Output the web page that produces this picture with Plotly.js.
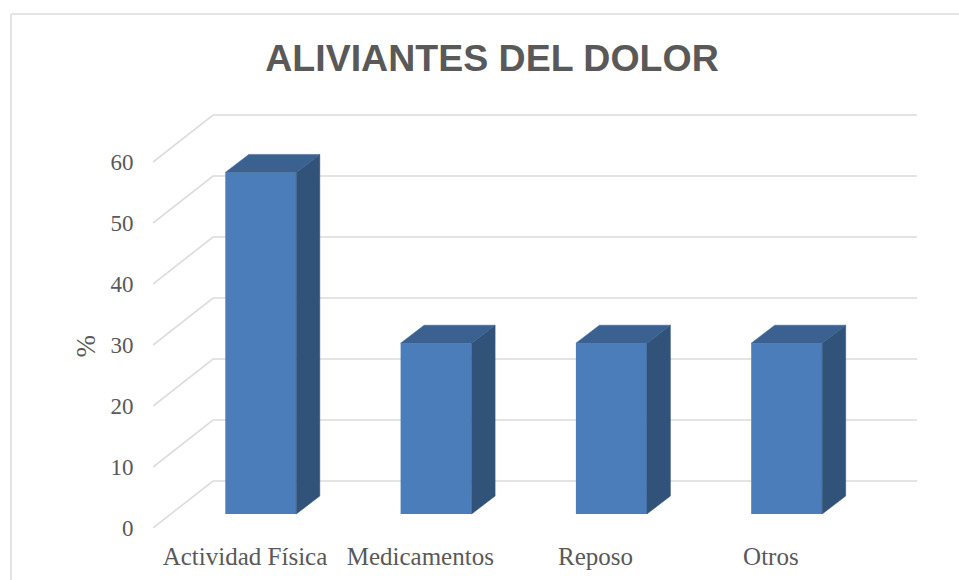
<!DOCTYPE html>
<html>
<head>
<meta charset="utf-8">
<script src="https://cdn.plot.ly/plotly-3.0.1.min.js"></script>
<style>html,body{margin:0;padding:0;background:#fff}#chart{width:959px;height:580px}</style>
</head>
<body>
<div id="chart"></div>
<script>
var categories = ["Actividad Física", "Medicamentos", "Reposo", "Otros"];
var values = [56, 28, 28, 28];
var yTicks = [0, 10, 20, 30, 40, 50, 60];

var W = 959, H = 580;
var mL = 153, mR = 42, mT = 100, mB = 52;
var plotW = W - mL - mR, plotH = H - mT - mB;
var catPx = 175.3;              // px per category
var firstPx = 245;              // px of the first category centre
var uPx = 6.1;                  // px per y unit
var xRange = [-(firstPx - mL) / catPx, (W - mR - firstPx) / catPx];
var yRange = [0, plotH / uPx];

// depth projection, in axis units
var wallDx = 60 / catPx, wallDy = 47 / uPx;
var barShiftX = 15.8 / catPx, barShiftY = 14 / uPx;
var barW = 71 / catPx, barDx = 23.5 / catPx, barDy = 18 / uPx;

var gridColor = "#dcdcdc", textColor = "#595959";
var frontColor = "#4c7dbb", topColor = "#3a6190", sideColor = "#315279";

var traces = [];

// floor/wall grid lines, on the base axes so that they sit under the bars
var gx = [], gy = [];
yTicks.forEach(function (t) {
  gx.push(xRange[0], xRange[0] + wallDx, xRange[1], null);
  gy.push(t, t + wallDy, t + wallDy, null);
});
traces.push({type: "scatter", mode: "lines", x: gx, y: gy, cliponaxis: false,
  connectgaps: false, hoverinfo: "skip", showlegend: false,
  line: {color: gridColor, width: 1.6}});

// front faces, on the overlay axes
traces.push({type: "bar", xaxis: "x2", yaxis: "y2",
  x: categories.map(function (c, i) { return i + barShiftX; }),
  y: values, base: values.map(function () { return barShiftY; }), width: barW,
  marker: {color: frontColor, line: {width: 0}},
  hovertext: categories, showlegend: false});

// side and top faces
categories.forEach(function (c, i) {
  var l = i + barShiftX - barW / 2, r = l + barW;
  var b = barShiftY, t = barShiftY + values[i];
  traces.push({type: "scatter", mode: "lines", fill: "toself", xaxis: "x2", yaxis: "y2",
    x: [r, r + barDx, r + barDx, r, r], y: [b, b + barDy, t + barDy, t, b],
    fillcolor: sideColor, line: {color: sideColor, width: 0.5},
    hoverinfo: "skip", showlegend: false});
  traces.push({type: "scatter", mode: "lines", fill: "toself", xaxis: "x2", yaxis: "y2",
    x: [l, r, r + barDx, l + barDx, l], y: [t, t, t + barDy, t + barDy, t],
    fillcolor: topColor, line: {color: topColor, width: 0.5},
    hoverinfo: "skip", showlegend: false});
});

function px(x) { return (x - mL) / plotW; }
function py(y) { return (H - mB - y) / plotH; }

var layout = {
  width: W, height: H,
  margin: {l: mL, r: mR, t: mT, b: mB, pad: 0},
  paper_bgcolor: "#ffffff", plot_bgcolor: "rgba(0,0,0,0)",
  showlegend: false,
  title: {text: "ALIVIANTES DEL DOLOR", x: 492 / W, xanchor: "center", xref: "container",
    y: 1 - 58 / H, yanchor: "middle", yref: "container",
    font: {family: "Liberation Sans", size: 37.5, color: textColor, weight: "bold"}},
  xaxis: {range: xRange, tickmode: "array", tickvals: categories.map(function (c, i) { return i; }),
    ticktext: categories, showgrid: false, zeroline: false, showline: false,
    ticks: "outside", ticklen: 6, tickcolor: "rgba(0,0,0,0)",
    tickfont: {family: "Liberation Serif", size: 25, color: textColor}},
  yaxis: {range: yRange, tickmode: "array", tickvals: yTicks, showgrid: false, zeroline: false,
    showline: false, ticks: "outside", ticklen: 14, tickcolor: "rgba(0,0,0,0)",
    tickfont: {family: "Liberation Serif", size: 23, color: textColor}},
  xaxis2: {range: xRange, overlaying: "x", visible: false},
  yaxis2: {range: yRange, overlaying: "y", visible: false},
  annotations: [{text: "%", xref: "paper", yref: "paper", x: px(85.5), y: py(346),
    xanchor: "center", yanchor: "middle", textangle: -90, showarrow: false,
    font: {family: "Liberation Serif", size: 27, color: textColor}}],
  shapes: [
    {type: "line", xref: "paper", yref: "paper", x0: px(11), x1: px(959), y0: py(14), y1: py(14),
      line: {color: "#e4e4e4", width: 2}, layer: "below"},
    {type: "line", xref: "paper", yref: "paper", x0: px(11), x1: px(11), y0: py(14), y1: py(580),
      line: {color: "#e4e4e4", width: 2}, layer: "below"}
  ]
};
Plotly.newPlot("chart", traces, layout, {displayModeBar: false, staticPlot: true});
</script>
</body>
</html>
